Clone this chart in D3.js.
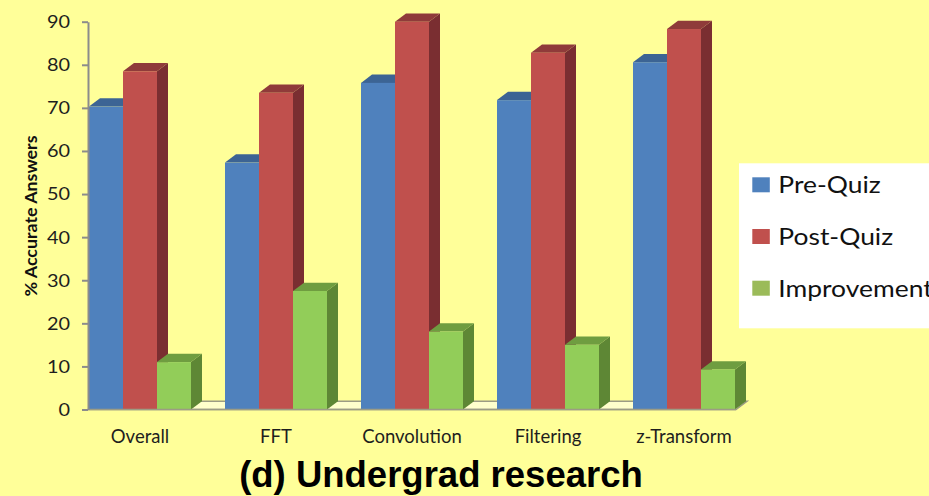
<!DOCTYPE html>
<html>
<head>
<meta charset="utf-8">
<script src="https://cdn.jsdelivr.net/npm/d3@7"></script>
<style>
  html, body { margin: 0; padding: 0; background: #ffff99; }
  svg { display: block; }
</style>
</head>
<body>
<svg id="chart" width="929" height="496"></svg>
<script>
// Quiz results by topic (% accurate answers)
const categories = ["Overall", "FFT", "Convolution", "Filtering", "z-Transform"];
const seriesNames = ["Pre-Quiz", "Post-Quiz", "Improvement"];
const preQuiz = [70.3, 57.3, 75.8, 71.8, 80.6];
const postQuiz = [78.5, 73.5, 90, 82.8, 88.3];
const improvement = [11, 27.5, 18.1, 15, 9.3];
const yTicks = [0, 10, 20, 30, 40, 50, 60, 70, 80, 90];

const seriesValues = [preQuiz, postQuiz, improvement];

// face colours for each series: front, top, side, legend swatch
const palette = [
  { front: "#4f81bd", top: "#3c6494", side: "#375d8a", key: "#4f81bd" },
  { front: "#c0504d", top: "#8f3b3a", side: "#7a2e31", key: "#c0504d" },
  { front: "#92cd59", top: "#6f9d40", side: "#5e8735", key: "#9bbb59" }
];

const W = 929, H = 496;
const svg = d3.select("#chart");
const font = "Lato, 'Open Sans', sans-serif";

svg.append("rect").attr("width", W).attr("height", H).attr("fill", "#ffff99");

// scales
const y = d3.scaleLinear().domain([0, 90]).range([409.5, 21.7]);
const x0 = d3.scaleBand().domain(categories).range([89, 735]).paddingInner(0.25).paddingOuter(0);
const x1 = d3.scaleBand().domain(seriesNames).range([0, x0.bandwidth()]).padding(0);

// 3-D depth offset
const dx = 11, dy = -8.3;

// floor
const fx0 = 88, fx1 = x0.range()[1] + 1, fy = y(0);
svg.append("polygon")
  .attr("points", [[fx0, fy], [fx1, fy], [fx1 + dx, fy + dy], [fx0 + dx, fy + dy]].map(p => p.join(",")).join(" "))
  .attr("fill", "#ffffcc")
  .attr("stroke", "#9c9c84")
  .attr("stroke-width", 1.5);

// bars (left to right so each front face hides the neighbour's side)
const bars = [];
categories.forEach((c, i) => {
  seriesNames.forEach((s, j) => {
    bars.push({ cat: c, series: s, j, value: seriesValues[j][i] });
  });
});

const barG = svg.append("g");
bars.forEach(d => {
  const xl = x0(d.cat) + x1(d.series);
  const xr = xl + x1.bandwidth();
  const yt = y(d.value);
  const yb = y(0);
  const col = palette[d.j];
  const g = barG.append("g");
  // side face
  g.append("polygon")
    .attr("points", [[xr, yb], [xr + dx, yb + dy], [xr + dx, yt + dy], [xr, yt]].map(p => p.join(",")).join(" "))
    .attr("fill", col.side);
  // top face
  g.append("polygon")
    .attr("points", [[xl, yt], [xr, yt], [xr + dx, yt + dy], [xl + dx, yt + dy]].map(p => p.join(",")).join(" "))
    .attr("fill", col.top);
  // front face
  g.append("rect")
    .attr("x", xl).attr("y", yt)
    .attr("width", xr - xl).attr("height", yb - yt)
    .attr("fill", col.front);
});

// baseline in front of the floor
svg.append("line")
  .attr("x1", fx0).attr("x2", fx1)
  .attr("y1", fy).attr("y2", fy)
  .attr("stroke", "#9c9c84").attr("stroke-width", 1.5);

// y axis
const yAxis = svg.append("g")
  .attr("transform", "translate(88,0)")
  .call(d3.axisLeft(y).tickValues(yTicks).tickSize(6).tickSizeOuter(0).tickPadding(0));
yAxis.select(".domain").attr("stroke", "#8c8c8c").attr("stroke-width", 2);
yAxis.selectAll(".tick line").attr("stroke", "#8c8c8c").attr("stroke-width", 2);
const tickStretch = 1.22;
yAxis.selectAll(".tick text")
  .attr("font-family", font)
  .attr("font-size", 16.3)
  .attr("fill", "#1e1e1e")
  .attr("x", -18 / tickStretch)
  .attr("dy", "0.36em")
  .attr("transform", `scale(${tickStretch},1)`);

// y axis title
svg.append("text")
  .attr("transform", "translate(36.5,216) rotate(-90) scale(1.08,1)")
  .attr("text-anchor", "middle")
  .attr("font-family", font)
  .attr("font-weight", "bold")
  .attr("font-size", 16.5)
  .attr("fill", "#111")
  .text("% Accurate Answers");

// category labels
svg.append("g").selectAll("text")
  .data(categories)
  .join("text")
  .attr("x", d => x0(d) + x0.bandwidth() / 2)
  .attr("y", 443.3)
  .attr("text-anchor", "middle")
  .attr("font-family", font)
  .attr("font-size", 18.5)
  .attr("fill", "#1e1e1e")
  .text(d => d);

// legend
const legend = svg.append("g");
legend.append("rect")
  .attr("x", 739).attr("y", 163.3)
  .attr("width", 220).attr("height", 165)
  .attr("fill", "#ffffff");
const legendStep = 51.7;
seriesNames.forEach((s, j) => {
  const ly = 177.3 + j * legendStep;
  legend.append("rect")
    .attr("x", 752.3).attr("y", ly)
    .attr("width", 17.5).attr("height", 15)
    .attr("fill", palette[j].key);
  legend.append("text")
    .attr("transform", `translate(778.3,${ly + 16}) scale(1.12,1)`)
    .attr("font-family", font)
    .attr("font-size", 23.6)
    .attr("fill", "#111")
    .text(s);
});

// chart title
svg.append("text")
  .attr("x", 441)
  .attr("y", 487.3)
  .attr("text-anchor", "middle")
  .attr("font-family", "'Liberation Sans', Arial, sans-serif")
  .attr("font-weight", "bold")
  .attr("font-size", 36.5)
  .attr("fill", "#000")
  .text("(d) Undergrad research");
</script>
</body>
</html>
